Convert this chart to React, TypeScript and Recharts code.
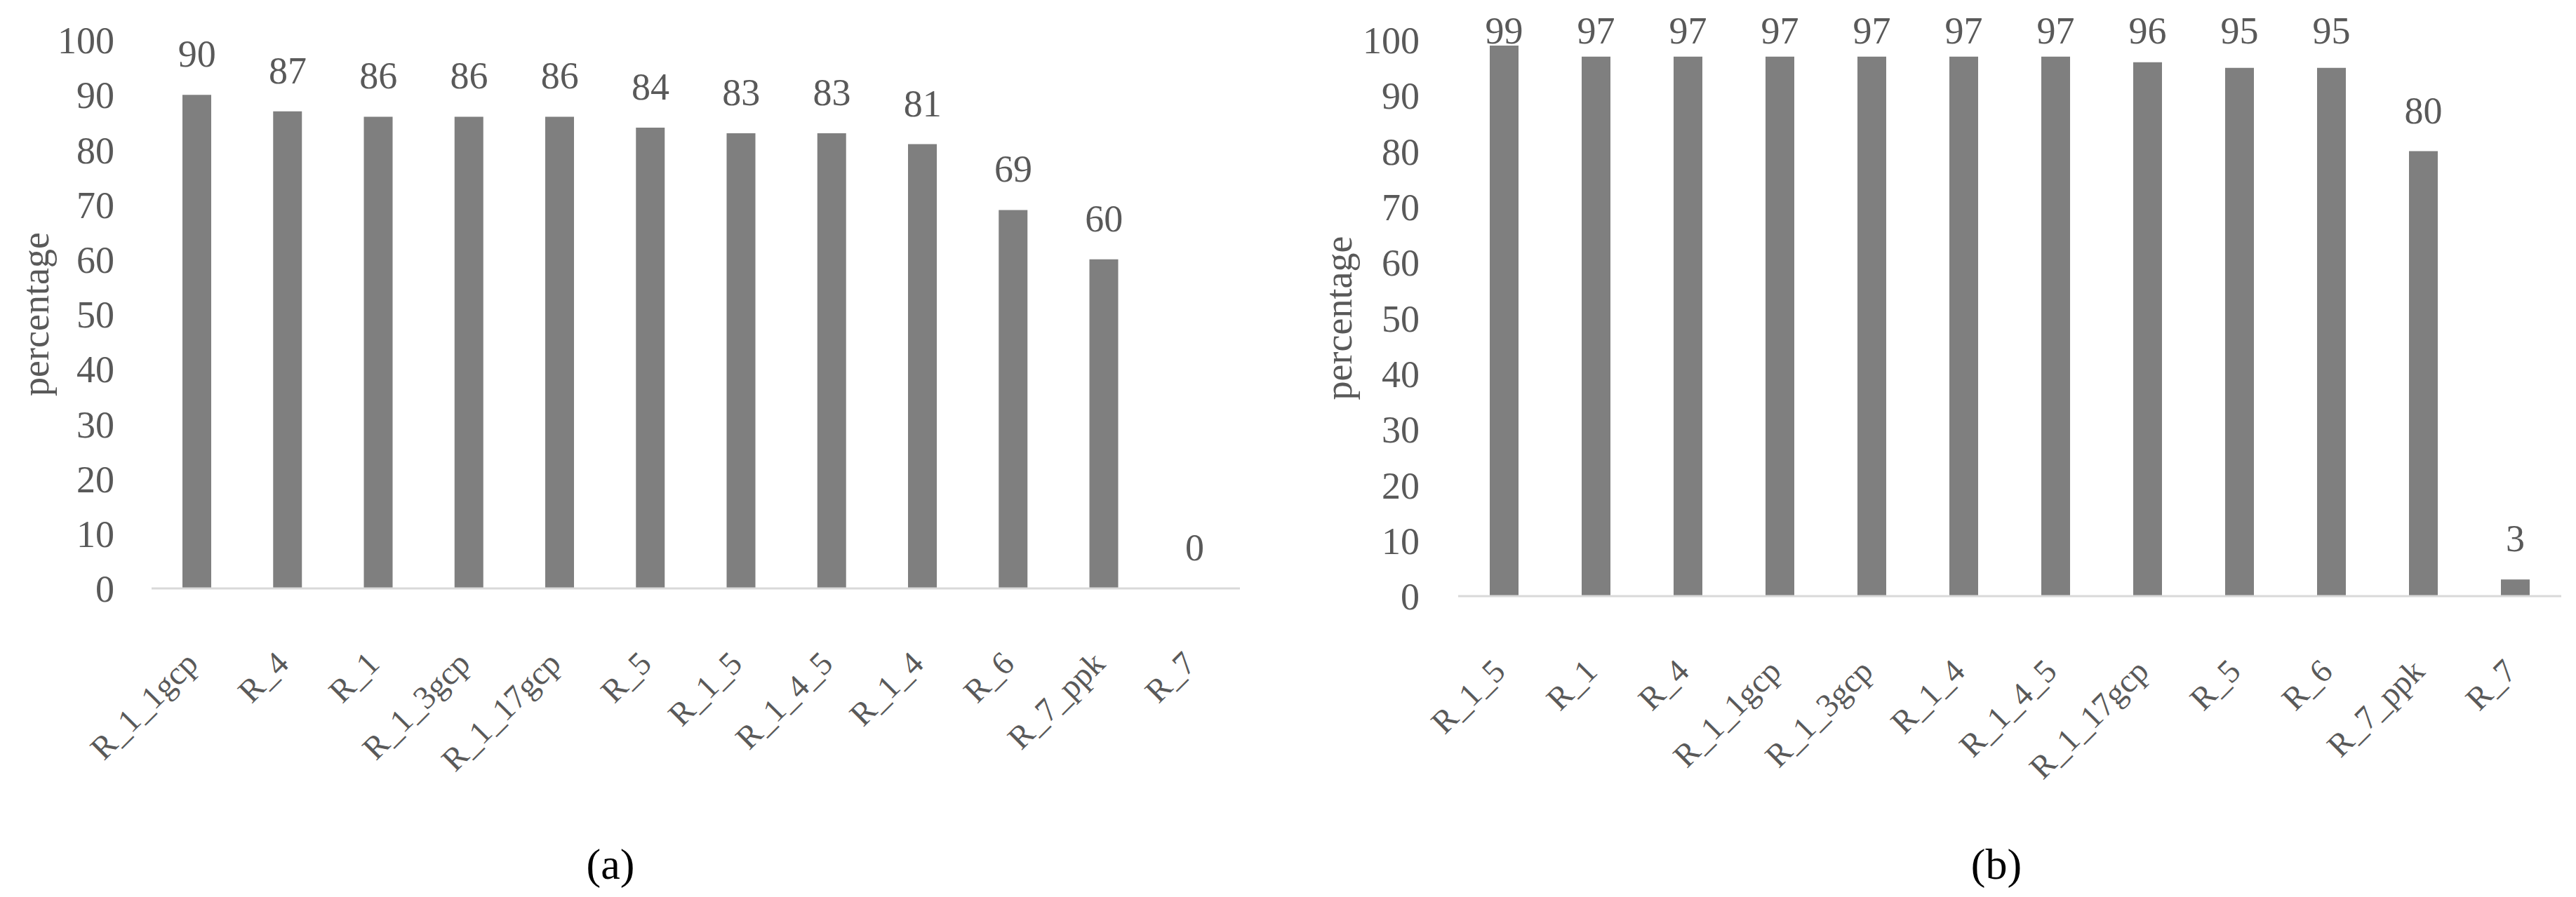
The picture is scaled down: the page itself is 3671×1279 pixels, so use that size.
import { Bar, ComposedChart, LabelList, Line, XAxis, YAxis } from "recharts";

const leftNames = ["R_1_1gcp", "R_4", "R_1", "R_1_3gcp", "R_1_17gcp", "R_5", "R_1_5", "R_1_4_5", "R_1_4", "R_6", "R_7_ppk", "R_7"];
const leftValues = [90, 87, 86, 86, 86, 84, 83, 83, 81, 69, 60, 0];

const rightNames = ["R_1_5", "R_1", "R_4", "R_1_1gcp", "R_1_3gcp", "R_1_4", "R_1_4_5", "R_1_17gcp", "R_5", "R_6", "R_7_ppk", "R_7"];
const rightValues = [99, 97, 97, 97, 97, 97, 97, 96, 95, 95, 80, 3];

const yTicks = [0, 10, 20, 30, 40, 50, 60, 70, 80, 90, 100];

const FONT = "'Liberation Serif', 'Times New Roman', serif";
const GREY = "#595959";
const FS = 54;

function RotatedTick(props: any) {
  const { x, y, payload } = props;
  return (
    <g transform={`translate(${x + 4},${y + 104})`}>
      <text x={0} y={0} textAnchor="end" transform="rotate(-45)" fill={GREY} fontSize={47} fontFamily={FONT}>
        {payload.value}
      </text>
    </g>
  );
}

// value labels sit ~40px above the bar top, but never above the plot top (like Excel)
function ValueLabel(props: any) {
  const { x, y, value } = props;
  return (
    <text x={x} y={Math.max(y - 40, 62)} textAnchor="middle" fill={GREY} fontSize={FS} fontFamily={FONT}>
      {value}
    </text>
  );
}

function Panel({
  names,
  values,
  width,
  yAxisWidth,
  marginRight,
  xAxisHeight,
  tickMargin,
  titleOffset,
}: {
  names: string[];
  values: number[];
  width: number;
  yAxisWidth: number;
  marginRight: number;
  xAxisHeight: number;
  tickMargin: number;
  titleOffset: number;
}) {
  const data = names.map((name, i) => ({ name, value: values[i] }));
  return (
    <ComposedChart width={width} height={1279} data={data} margin={{ top: 57, right: marginRight, left: 0, bottom: 0 }}>
      <XAxis
        dataKey="name"
        interval={0}
        height={xAxisHeight}
        tickLine={false}
        tickMargin={0}
        axisLine={{ stroke: "#d9d9d9", strokeWidth: 3 }}
        tick={<RotatedTick />}
      />
      <YAxis
        domain={[0, 100]}
        ticks={yTicks}
        interval={0}
        width={yAxisWidth}
        axisLine={false}
        tickLine={false}
        tickMargin={tickMargin}
        tick={{ fill: GREY, fontSize: FS, fontFamily: FONT }}
        label={{
          value: "percentage",
          angle: -90,
          position: "insideLeft",
          offset: titleOffset,
          style: { textAnchor: "middle", fill: GREY, fontSize: FS, fontFamily: FONT },
        }}
      />
      <Bar dataKey="value" fill="#7f7f7f" barSize={41} isAnimationActive={false} />
      <Line dataKey="value" stroke="none" dot={false} activeDot={false} isAnimationActive={false}>
        <LabelList dataKey="value" content={<ValueLabel />} />
      </Line>
    </ComposedChart>
  );
}

const captionStyle: React.CSSProperties = {
  position: "absolute",
  top: 1192,
  fontFamily: FONT,
  fontSize: 62,
  color: "#000",
  transform: "translateX(-50%)",
  lineHeight: "80px",
};

export default function App() {
  return (
    <div style={{ position: "absolute", left: 0, top: 0, width: 3671, height: 1279, background: "#fff" }}>
      <div style={{ position: "absolute", left: 0, top: 0 }}>
        <Panel
          names={leftNames}
          values={leftValues}
          width={1835}
          yAxisWidth={216}
          marginRight={68}
          xAxisHeight={440}
          tickMargin={47}
          titleOffset={50}
        />
      </div>
      <div style={{ position: "absolute", left: 1835, top: 0 }}>
        <Panel
          names={rightNames}
          values={rightValues}
          width={1836}
          yAxisWidth={243}
          marginRight={21}
          xAxisHeight={429}
          tickMargin={49}
          titleOffset={72}
        />
      </div>
      <div style={{ ...captionStyle, left: 870 }}>(a)</div>
      <div style={{ ...captionStyle, left: 2845 }}>(b)</div>
    </div>
  );
}
